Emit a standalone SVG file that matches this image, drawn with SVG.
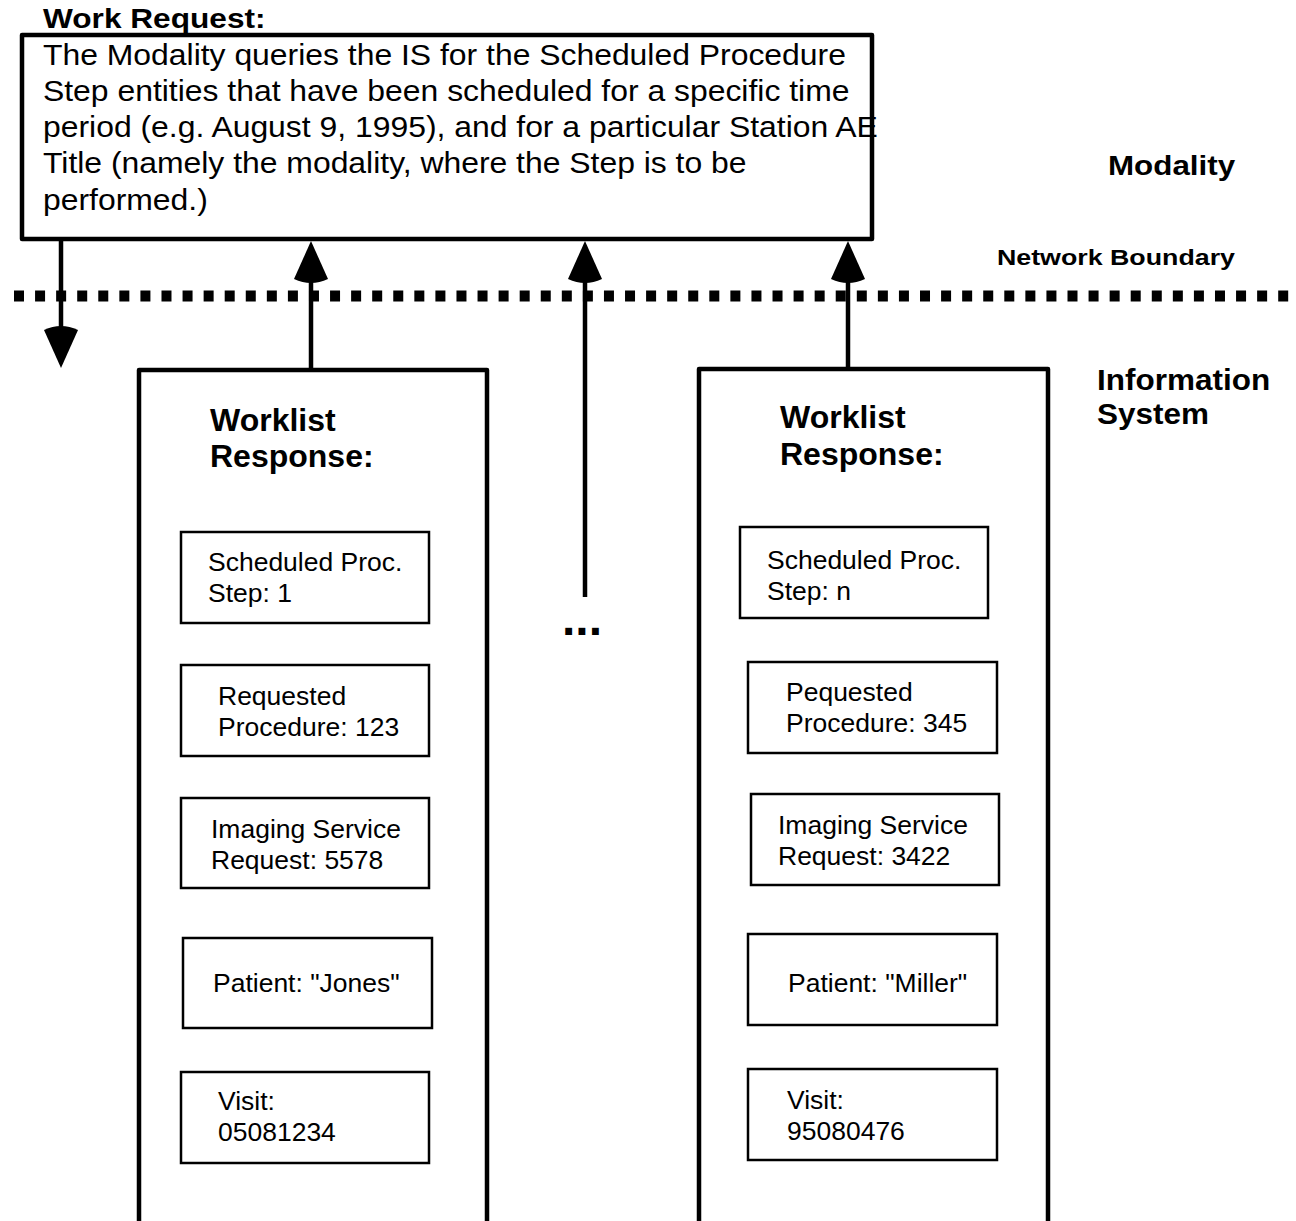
<svg xmlns="http://www.w3.org/2000/svg" width="1296" height="1221" viewBox="0 0 1296 1221">
<style>
.t{font-family:"Liberation Sans",Arial,Helvetica,sans-serif;fill:#000}
.b{font-weight:bold}
.body{font-size:29px}
.inner{font-size:25px}
.big{fill:#fff;stroke:#000;stroke-width:4.5;stroke-linejoin:round}
.box{fill:#fff;stroke:#000;stroke-width:2.5}
.conn{stroke:#000;stroke-width:4.5;fill:none}
.boundary{stroke:#000;stroke-width:11;stroke-dasharray:10 11.07;fill:none}
</style>
<defs>
<marker id="ah" viewBox="-10 -18 50 36" markerWidth="50" markerHeight="36" refX="10" refY="0" orient="auto" markerUnits="userSpaceOnUse">
<path d="M38,0 L0,-17 Q-8,0 0,17 Z" fill="#000"/>
</marker>
</defs>
<rect width="1296" height="1221" fill="#fff"/>

<g id="boundary">
<line class="boundary" x1="14" y1="296" x2="1296" y2="296"/>
<text class="t b" font-size="22.5" transform="translate(997 265) scale(1.19 1)">Network Boundary</text>
</g>

<g id="work-request">
<text class="t b" font-size="28" transform="translate(43 28) scale(1.13 1)">Work Request:</text>
<rect class="big" x="22" y="35" width="850" height="204"/>
<text class="t body" transform="translate(43 64.5) scale(1.1 1)"><tspan x="0" y="0">The Modality queries the IS for the Scheduled Procedure</tspan><tspan x="0" y="36.3">Step entities that have been scheduled for a specific time</tspan><tspan x="0" y="72.6">period (e.g. August 9, 1995), and for a particular Station AE</tspan><tspan x="0" y="108.9">Title (namely the modality, where the Step is to be</tspan><tspan x="0" y="145.2">performed.)</tspan></text>
</g>

<g id="label-modality">
<text class="t b" font-size="28" transform="translate(1108 175) scale(1.12 1)">Modality</text>
</g>

<g id="label-is">
<text class="t b" font-size="30" transform="translate(1097 390) scale(1.05 1)"><tspan x="0" y="0">Information</tspan><tspan x="0" y="34">System</tspan></text>
</g>

<g id="worklist-1">
<rect class="big" x="139" y="370" width="348" height="880"/>
<text class="t b" font-size="32" transform="translate(210 431)"><tspan x="0" y="0">Worklist</tspan><tspan x="0" y="36">Response:</tspan></text>
<g id="w1-sps">
<rect class="box" x="181" y="532" width="248" height="91"/>
<text class="t inner" transform="translate(208 571) scale(1.06 1)"><tspan x="0" y="0">Scheduled Proc.</tspan><tspan x="0" y="31">Step: 1</tspan></text>
</g>
<g id="w1-rp">
<rect class="box" x="181" y="665" width="248" height="91"/>
<text class="t inner" transform="translate(218 705) scale(1.06 1)"><tspan x="0" y="0">Requested</tspan><tspan x="0" y="31">Procedure: 123</tspan></text>
</g>
<g id="w1-isr">
<rect class="box" x="181" y="798" width="248" height="90"/>
<text class="t inner" transform="translate(211 838) scale(1.06 1)"><tspan x="0" y="0">Imaging Service</tspan><tspan x="0" y="31">Request: 5578</tspan></text>
</g>
<g id="w1-patient">
<rect class="box" x="183" y="938" width="249" height="90"/>
<text class="t inner" transform="translate(213 992) scale(1.06 1)">Patient: "Jones"</text>
</g>
<g id="w1-visit">
<rect class="box" x="181" y="1072" width="248" height="91"/>
<text class="t inner" transform="translate(218 1110) scale(1.06 1)"><tspan x="0" y="0">Visit:</tspan><tspan x="0" y="31">05081234</tspan></text>
</g>
</g>

<g id="worklist-n">
<rect class="big" x="699" y="369" width="349" height="880"/>
<text class="t b" font-size="32" transform="translate(780 428)"><tspan x="0" y="0">Worklist</tspan><tspan x="0" y="37">Response:</tspan></text>
<g id="wn-sps">
<rect class="box" x="740" y="527" width="248" height="91"/>
<text class="t inner" transform="translate(767 569) scale(1.06 1)"><tspan x="0" y="0">Scheduled Proc.</tspan><tspan x="0" y="31">Step: n</tspan></text>
</g>
<g id="wn-rp">
<rect class="box" x="748" y="662" width="249" height="91"/>
<text class="t inner" transform="translate(786 701) scale(1.06 1)"><tspan x="0" y="0">Pequested</tspan><tspan x="0" y="31">Procedure: 345</tspan></text>
</g>
<g id="wn-isr">
<rect class="box" x="751" y="794" width="248" height="91"/>
<text class="t inner" transform="translate(778 834) scale(1.06 1)"><tspan x="0" y="0">Imaging Service</tspan><tspan x="0" y="31">Request: 3422</tspan></text>
</g>
<g id="wn-patient">
<rect class="box" x="748" y="934" width="249" height="91"/>
<text class="t inner" transform="translate(788 992) scale(1.06 1)">Patient: "Miller"</text>
</g>
<g id="wn-visit">
<rect class="box" x="748" y="1069" width="249" height="91"/>
<text class="t inner" transform="translate(787 1109) scale(1.06 1)"><tspan x="0" y="0">Visit:</tspan><tspan x="0" y="31">95080476</tspan></text>
</g>
</g>

<g id="ellipsis">
<text class="t b" font-size="48" x="562" y="635">...</text>
</g>

<g id="connectors">
<line class="conn" x1="61" y1="239" x2="61" y2="340" marker-end="url(#ah)"/>
<line class="conn" x1="311" y1="370" x2="311" y2="269" marker-end="url(#ah)"/>
<line class="conn" x1="585" y1="597" x2="585" y2="269" marker-end="url(#ah)"/>
<line class="conn" x1="848" y1="369" x2="848" y2="269" marker-end="url(#ah)"/>
</g>
</svg>
